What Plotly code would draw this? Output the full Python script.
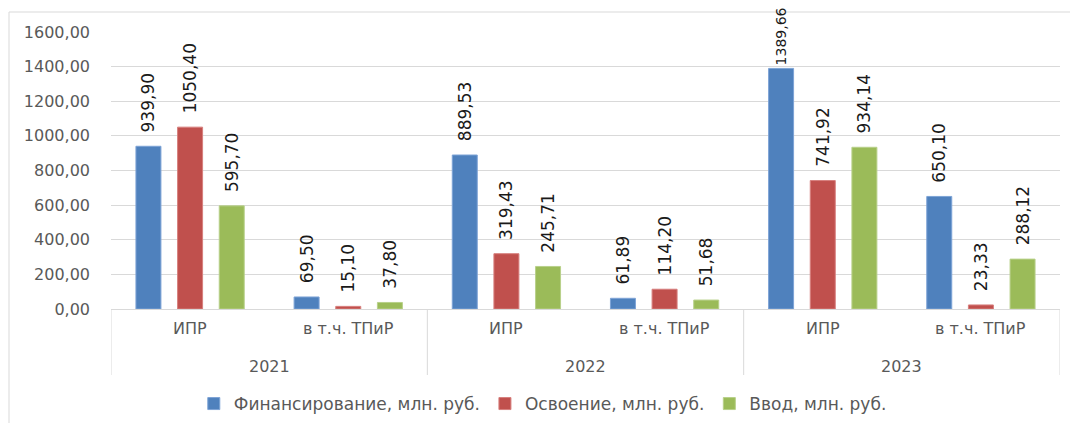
import plotly.graph_objects as go

years = ["2021", "2021", "2022", "2022", "2023", "2023"]
cats = ["ИПР", "в т.ч. ТПиР", "ИПР", "в т.ч. ТПиР", "ИПР", "в т.ч. ТПиР"]
series_names = ["Финансирование, млн. руб.", "Освоение, млн. руб.", "Ввод, млн. руб."]
fin = [939.90, 69.50, 889.53, 61.89, 1389.66, 650.10]
osv = [1050.40, 15.10, 319.43, 114.20, 741.92, 23.33]
vvod = [595.70, 37.80, 245.71, 51.68, 934.14, 288.12]
colors = ["#4F81BD", "#C0504D", "#9BBB59"]
edge = ["#7DA3D6", "#D77F7D", "#B8D08A"]
y_ticks = [0, 200, 400, 600, 800, 1000, 1200, 1400, 1600]
Y_MAX = 1600

# page is offset by the default 8px body margin
OFF = 8
W, H = 1078 - OFF, 423 - OFF
L, R, T, B = 111 - OFF, 1060 - OFF, 32 - OFF, 309 - OFF
PH = B - T

idx = list(range(len(cats)))
fig = go.Figure()
for name, vals, c, e in zip(series_names, [fin, osv, vvod], colors, edge):
    tall = [v > 0.8 * Y_MAX for v in vals]
    fig.add_trace(go.Bar(
        x=idx, y=vals, name=name,
        marker=dict(color=c, line=dict(color=e, width=1)),
        texttemplate=["%{y:.2f}" if t else "\u00a0\u00a0%{y:.2f}" for t in tall],
        textposition="outside",
        textangle=-90, constraintext="none", cliponaxis=False,
        textfont=dict(family="DejaVu Sans", size=[14 if t else 17 for t in tall],
                      color="#1a1a1a"),
    ))

gray = "#595959"
grid = "#D9D9D9"

annotations = []
shapes = []
for i, c in enumerate(cats):
    annotations.append(dict(x=i, y=(309 - 328) / PH, xref="x", yref="paper", text=c,
                            showarrow=False, xanchor="center", yanchor="middle",
                            font=dict(family="DejaVu Sans", size=16, color=gray)))
groups = {}
for i, yv in enumerate(years):
    groups.setdefault(yv, []).append(i)
bounds = set()
for yv, ids in groups.items():
    annotations.append(dict(x=sum(ids) / len(ids), y=(309 - 366) / PH, xref="x", yref="paper",
                            text=yv, showarrow=False, xanchor="center", yanchor="middle",
                            font=dict(family="DejaVu Sans", size=16, color=gray)))
    bounds.add(min(ids) - 0.5)
    bounds.add(max(ids) + 0.5)
for bx in sorted(bounds):
    shapes.append(dict(type="line", xref="x", yref="paper", x0=bx, x1=bx,
                       y0=0, y1=(309 - 375) / PH, line=dict(color=grid, width=1)))
shapes.append(dict(type="rect", xref="paper", yref="paper",
                   x0=(9 - 111) / (R - L), x1=1.2,
                   y0=-0.6, y1=(309 - 12) / PH,
                   line=dict(color=grid, width=1), layer="below"))

fig.update_layout(
    width=W, height=H,
    margin=dict(l=L, r=W - R, t=T, b=H - B, autoexpand=False),
    paper_bgcolor="white", plot_bgcolor="white",
    barmode="group", bargap=0.21, bargroupgap=0.40,
    separators=",.",
    font=dict(family="DejaVu Sans", size=16, color=gray),
    showlegend=True,
    legend=dict(orientation="h", x=0.455, xanchor="center", y=(309 - 404) / PH, yanchor="middle",
                font=dict(family="DejaVu Sans", size=17, color=gray), itemwidth=30),
    xaxis=dict(range=[-0.5, len(cats) - 0.5], showline=True, linecolor=grid, linewidth=1,
               showticklabels=False, showgrid=False, zeroline=False, ticks="",
               automargin=False),
    yaxis=dict(range=[0, Y_MAX], tickvals=y_ticks, tickformat=".2f",
               showgrid=True, gridcolor=grid, gridwidth=1,
               zeroline=False, showline=False, ticklabelstandoff=20, automargin=False,
               tickfont=dict(family="DejaVu Sans", size=16, color=gray)),
    shapes=shapes,
    annotations=annotations,
)

fig.write_html("out.html")
